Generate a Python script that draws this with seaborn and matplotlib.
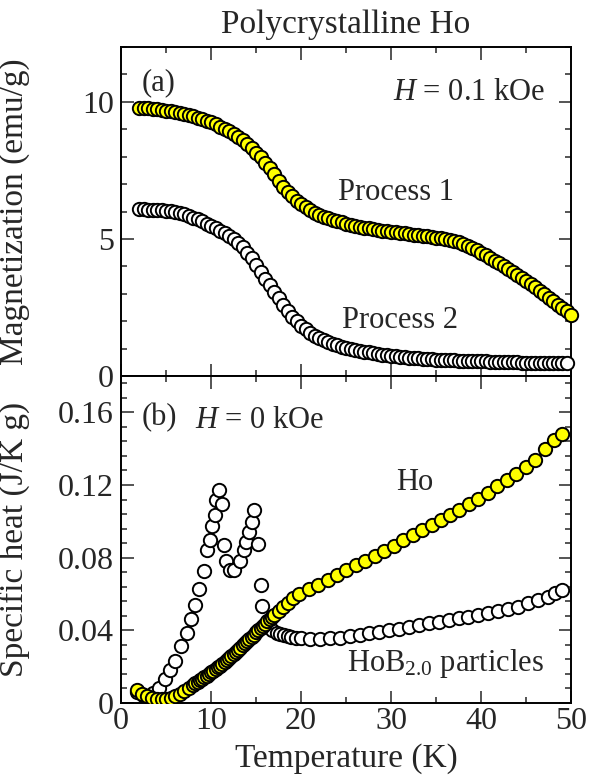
import matplotlib
matplotlib.use("Agg")
import matplotlib.pyplot as plt
import seaborn as sns
import pandas as pd
from matplotlib.ticker import MultipleLocator, FuncFormatter

# ---------------- data ----------------
# (a) magnetization, H = 0.1 kOe
T_mag = [2.0, 2.5, 3.0, 3.5, 4.0, 4.5, 5.0, 5.5, 6.0, 6.5, 7.0, 7.5, 8.0, 8.5, 9.0, 9.5,
         10.0, 10.5, 11.0, 11.5, 12.0, 12.5, 13.0, 13.5, 14.0, 14.5, 15.0, 15.5, 16.0, 16.5,
         17.0, 17.5, 18.0, 18.5, 19.0, 19.5, 20.0, 20.5, 21.0, 21.5, 22.0, 22.5, 23.0, 23.5,
         24.0, 24.5, 25.0, 25.5, 26.0, 26.5, 27.0, 27.5, 28.0, 28.5, 29.0, 29.5, 30.0, 30.5,
         31.0, 31.5, 32.0, 32.5, 33.0, 33.5, 34.0, 34.5, 35.0, 35.5, 36.0, 36.5, 37.0, 37.5,
         38.0, 38.5, 39.0, 39.5, 40.0, 40.5, 41.0, 41.5, 42.0, 42.5, 43.0, 43.5, 44.0, 44.5,
         45.0, 45.5, 46.0, 46.5, 47.0, 47.5, 48.0, 48.5, 49.0, 49.5, 50.0]
M_process1 = [9.77, 9.77, 9.76, 9.75, 9.74, 9.71, 9.68, 9.65, 9.62, 9.59, 9.55, 9.51, 9.47, 9.42,
              9.37, 9.31, 9.25, 9.18, 9.10, 9.02, 8.93, 8.83, 8.72, 8.60, 8.46, 8.31, 8.15, 7.97,
              7.78, 7.57, 7.35, 7.12, 6.90, 6.71, 6.55, 6.40, 6.27, 6.15, 6.05, 5.96, 5.88, 5.81,
              5.75, 5.70, 5.65, 5.60, 5.56, 5.52, 5.48, 5.44, 5.41, 5.38, 5.35, 5.32, 5.30, 5.28,
              5.26, 5.24, 5.22, 5.20, 5.18, 5.16, 5.14, 5.12, 5.10, 5.08, 5.05, 5.02, 4.99, 4.96,
              4.92, 4.87, 4.82, 4.75, 4.68, 4.59, 4.50, 4.41, 4.31, 4.21, 4.11, 4.01, 3.91, 3.81,
              3.70, 3.59, 3.48, 3.36, 3.24, 3.11, 2.98, 2.85, 2.72, 2.60, 2.48, 2.36, 2.24]
M_process2 = [6.08, 6.08, 6.07, 6.07, 6.06, 6.05, 6.03, 6.01, 5.98, 5.94, 5.90, 5.84, 5.78, 5.71,
              5.64, 5.56, 5.47, 5.39, 5.30, 5.22, 5.12, 5.00, 4.85, 4.69, 4.50, 4.29, 4.05, 3.80,
              3.55, 3.31, 3.08, 2.83, 2.58, 2.36, 2.17, 2.00, 1.84, 1.70, 1.58, 1.47, 1.38, 1.30,
              1.23, 1.17, 1.12, 1.07, 1.03, 0.99, 0.96, 0.92, 0.89, 0.86, 0.83, 0.80, 0.78, 0.76,
              0.74, 0.72, 0.70, 0.68, 0.67, 0.65, 0.64, 0.63, 0.62, 0.61, 0.60, 0.59, 0.58, 0.57,
              0.57, 0.56, 0.55, 0.55, 0.54, 0.54, 0.53, 0.53, 0.52, 0.52, 0.51, 0.51, 0.50, 0.50,
              0.50, 0.49, 0.49, 0.49, 0.48, 0.48, 0.48, 0.48, 0.47, 0.47, 0.47, 0.47]

# (b) specific heat, H = 0 kOe
T_ho = [1.75, 2.3, 2.85, 3.4, 3.95, 4.5, 5.0, 5.5, 6.0, 6.5, 7.0, 7.5, 8.0,
        8.25, 8.5, 8.75, 9.0, 9.25, 9.5, 9.75, 10.0, 10.25, 10.5, 10.75, 11.0, 11.25, 11.5,
        11.75, 12.0, 12.25, 12.5, 12.75, 13.0, 13.25, 13.5, 13.75, 14.0, 14.25, 14.5, 14.75,
        15.0, 15.25, 15.5, 15.75, 16.0, 16.25, 16.5, 16.75, 17.0, 17.5, 18.0, 18.5, 19.1,
        19.8, 20.9, 21.9, 23.0, 24.0, 25.0, 26.1, 27.1, 28.2, 29.2, 30.3, 31.3, 32.4, 33.4,
        34.5, 35.5, 36.6, 37.6, 38.7, 39.7, 40.8, 41.8, 42.9, 43.9, 45.0, 46.0, 47.1, 48.1, 49.0]
C_ho = [0.0072, 0.0050, 0.0036, 0.0026, 0.0022, 0.0021, 0.0024, 0.0030, 0.0040, 0.0050,
        0.0064, 0.0080, 0.0100,
        0.0108, 0.0116, 0.0124, 0.0133, 0.0141, 0.0150, 0.0159, 0.0168, 0.0177, 0.0186,
        0.0196, 0.0206, 0.0216, 0.0226, 0.0237, 0.0248, 0.0259, 0.0270, 0.0282, 0.0294,
        0.0305, 0.0317, 0.0329, 0.0341, 0.0353, 0.0365, 0.0377, 0.0389, 0.0401, 0.0413,
        0.0425, 0.0437, 0.0449, 0.0461, 0.0473, 0.0485, 0.0505, 0.0528, 0.0552, 0.0578,
        0.0600, 0.0626, 0.0650, 0.0676, 0.0703, 0.0730, 0.0760, 0.0784, 0.0810, 0.0836,
        0.0866, 0.0895, 0.0925, 0.0952, 0.0978, 0.1005, 0.1033, 0.1062, 0.1093, 0.1125,
        0.1158, 0.1193, 0.1228, 0.1262, 0.1300, 0.1340, 0.1400, 0.1445, 0.1480]

T_hob = [1.8, 2.4, 3.0, 3.6, 4.2, 4.9, 5.4, 6.0, 6.7, 7.3, 7.8, 8.2, 8.65, 9.2, 9.6, 9.9,
         10.1, 10.4, 10.6, 10.9, 11.2, 11.45, 11.65, 12.1, 12.6, 13.2, 13.7, 13.9, 14.2, 14.5,
         14.75, 15.2, 15.5, 15.7, 16.3, 16.8, 17.3, 17.7, 18.1, 18.5, 18.9, 19.4, 20.0, 21.0,
         22.1, 23.2, 24.3, 25.4, 26.5, 27.6, 28.7, 29.8, 30.9, 32.0, 33.1, 34.2, 35.3, 36.4,
         37.5, 38.6, 39.7, 40.8, 41.9, 43.0, 44.1, 45.2, 46.3, 47.4, 48.2, 49.0]
C_hob = [0.0060, 0.0045, 0.0040, 0.0055, 0.0085, 0.0130, 0.0180, 0.0233, 0.0313, 0.0388,
         0.0462, 0.0538, 0.0630, 0.0727, 0.0840, 0.0900, 0.0973, 0.1036, 0.1115, 0.1174,
         0.1097, 0.0872, 0.0782, 0.0731, 0.0734, 0.0782, 0.0840, 0.0886, 0.0941, 0.0996,
         0.1060, 0.0877, 0.0648, 0.0535, 0.0430, 0.0400, 0.0385, 0.0378, 0.0372, 0.0368,
         0.0364, 0.0360, 0.0357, 0.0355, 0.0355, 0.0357, 0.0360, 0.0368, 0.0374, 0.0383,
         0.0392, 0.0401, 0.0410, 0.0420, 0.0428, 0.0438, 0.0447, 0.0456, 0.0466, 0.0475,
         0.0484, 0.0494, 0.0505, 0.0518, 0.0531, 0.0548, 0.0566, 0.0586, 0.0603, 0.0622]

x_ticks = [0, 10, 20, 30, 40, 50]

# ---------------- style ----------------
sns.set_style("ticks")
plt.rcParams["font.family"] = ["Liberation Serif", "DejaVu Serif"]
plt.rcParams["mathtext.fontset"] = "custom"
plt.rcParams["mathtext.rm"] = "Liberation Serif"
plt.rcParams["mathtext.it"] = "Liberation Serif:italic"
plt.rcParams["axes.linewidth"] = 1.4

YELLOW = "#FFFF00"
FS_TICK = 23
FS_LABEL = 24
FS_ANN = 22
S = 92
LW = 1.4

fig = plt.figure(figsize=(6.02, 7.80), dpi=100)
W, H = 602.0, 780.0
left, right = 121 / W, 571 / W
ax1 = fig.add_axes([left, 1 - 376 / H, right - left, (376 - 47) / H])
ax2 = fig.add_axes([left, 1 - 703 / H, right - left, (703 - 376) / H])

df_mag = pd.DataFrame({"T": T_mag, "M1": M_process1})
df_mag2 = pd.DataFrame({"T": T_mag[:len(M_process2)], "M2": M_process2})
df_ho = pd.DataFrame({"T": T_ho, "C": C_ho})
df_hob = pd.DataFrame({"T": T_hob, "C": C_hob})

sns.scatterplot(data=df_mag2, x="T", y="M2", ax=ax1, color="white", edgecolor="black",
                s=S, linewidth=LW, legend=False, zorder=3, clip_on=False)
sns.scatterplot(data=df_mag, x="T", y="M1", ax=ax1, color=YELLOW, edgecolor="black",
                s=S, linewidth=LW, legend=False, zorder=3, clip_on=False)

sns.scatterplot(data=df_hob, x="T", y="C", ax=ax2, color="white", edgecolor="black",
                s=S, linewidth=LW, legend=False, zorder=3)
sns.scatterplot(data=df_ho, x="T", y="C", ax=ax2, color=YELLOW, edgecolor="black",
                s=S, linewidth=LW, legend=False, zorder=4)

for ax in (ax1, ax2):
    ax.set_xlim(0, 50)
    ax.set_xticks(x_ticks)
    ax.xaxis.set_minor_locator(MultipleLocator(5))
    ax.tick_params(which="both", direction="in", top=True, right=True,
                   labelsize=FS_TICK, width=1.1)
    ax.tick_params(which="major", length=9, pad=5)
    ax.tick_params(which="minor", length=4.5)
    for sp in ax.spines.values():
        sp.set_linewidth(1.4)
        sp.set_color("black")
    ax.set_facecolor("white")

ax1.set_ylim(0, 12)
ax1.set_yticks([0, 5, 10])
ax1.yaxis.set_minor_locator(MultipleLocator(1))
ax1.tick_params(labelbottom=False)
ax1.set_xlabel("")
ax1.set_ylabel("Magnetization (emu/g)", fontsize=FS_LABEL)
ax1.yaxis.set_label_coords(-0.202, 0.5)

ax2.set_ylim(0, 0.18)
ax2.set_yticks([0, 0.04, 0.08, 0.12, 0.16])
ax2.yaxis.set_minor_locator(MultipleLocator(0.008))
ax2.yaxis.set_major_formatter(FuncFormatter(lambda v, p: "0" if abs(v) < 1e-9 else f"{v:.2f}"))
ax2.set_ylabel("Specific heat (J/K g)", fontsize=FS_LABEL)
ax2.yaxis.set_label_coords(-0.202, 0.5)
ax2.set_xlabel("Temperature (K)", fontsize=FS_LABEL)
ax2.xaxis.set_label_coords(0.5, -0.17)
ax2.xaxis.label.set_va("center")
ax2.tick_params(axis="x", pad=3)

ax1.set_title("Polycrystalline Ho", fontsize=FS_LABEL, pad=10)

# annotations
ax1.text(2.3, 10.7, "(a)", fontsize=FS_ANN, ha="left", va="center")
ax1.text(47.2, 10.35, "$H$ = 0.1 kOe", fontsize=FS_ANN, ha="right", va="center")
ax1.text(24.1, 6.68, "Process 1", fontsize=FS_ANN, ha="left", va="center")
ax1.text(24.6, 2.04, "Process 2", fontsize=FS_ANN, ha="left", va="center")

ax2.text(2.3, 0.157, "(b)", fontsize=FS_ANN, ha="left", va="center")
ax2.text(8.2, 0.1555, "$H$ = 0 kOe", fontsize=FS_ANN, ha="left", va="center")
ax2.text(30.6, 0.1216, "Ho", fontsize=FS_ANN, ha="left", va="center")
ax2.text(25.1, 0.022, "HoB$_{2.0}$ particles", fontsize=FS_ANN, ha="left", va="center")

fig.savefig("out.png", dpi=100, facecolor="white")
